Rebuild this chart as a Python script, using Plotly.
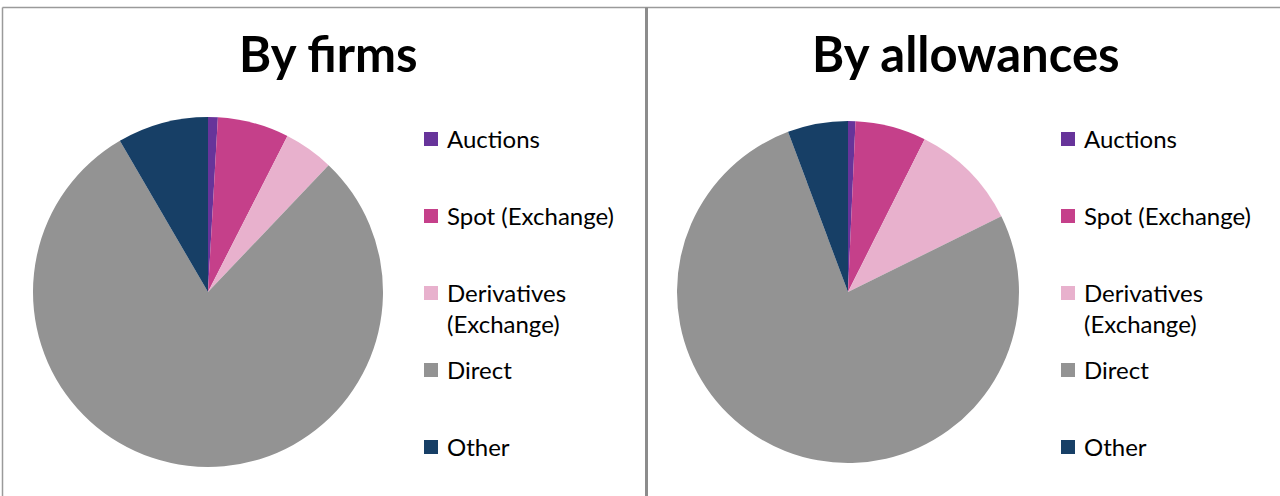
import plotly.graph_objects as go

# ---- data ----
categories = ["Auctions", "Spot (Exchange)", "Derivatives<br>(Exchange)", "Direct", "Other"]
firms_share = [0.9, 6.6, 4.6, 79.5, 8.4]
allowances_share = [0.7, 6.7, 10.3, 76.6, 5.7]
titles = ["By firms", "By allowances"]
colors = ["#67349a", "#c5408a", "#e8b1cd", "#939393", "#173f66"]

W, H = 1280, 496
FONT = "Lato"


def px(x):
    return x / W


def py(y):
    return 1 - y / H


fig = go.Figure()

# pie geometry (pixels): center x, center y, radius
pies = [
    dict(values=firms_share, cx=208, cy=292, r=175),
    dict(values=allowances_share, cx=848, cy=292, r=171),
]
for p in pies:
    fig.add_trace(go.Pie(
        labels=categories,
        values=p["values"],
        sort=False,
        direction="clockwise",
        rotation=0,
        textinfo="none",
        hoverinfo="label+percent",
        marker=dict(colors=colors, line=dict(width=0)),
        showlegend=False,
        domain=dict(x=[px(p["cx"] - p["r"]), px(p["cx"] + p["r"])],
                    y=[py(p["cy"] + p["r"]), py(p["cy"] - p["r"])]),
    ))

annotations = []
shapes = []

# titles
for t, cx in zip(titles, [328, 966]):
    annotations.append(dict(text="<b>" + t + "</b>", x=px(cx), y=py(53), xref="paper", yref="paper",
                            xanchor="center", yanchor="middle", showarrow=False,
                            font=dict(family=FONT, size=49, color="#000000")))

# manual legends
LINE_H = 31
for sq_x in [424, 1061]:
    for i, (lab, col) in enumerate(zip(categories, colors)):
        yc = 139 + i * 77
        shapes.append(dict(type="rect", xref="paper", yref="paper",
                           x0=px(sq_x), x1=px(sq_x + 14), y0=py(yc + 7), y1=py(yc - 7),
                           fillcolor=col, line=dict(width=0)))
        nlines = lab.count("<br>") + 1
        annotations.append(dict(text=lab, x=px(sq_x + 21), y=py(yc - 1 + (nlines - 1) * LINE_H / 2),
                                xref="paper", yref="paper", xanchor="left", yanchor="middle",
                                align="left", showarrow=False,
                                font=dict(family=FONT, size=24, color="#000000")))

# frame lines
shapes.append(dict(type="line", xref="paper", yref="paper", x0=px(2.5), x1=1, y0=py(7.5), y1=py(7.5),
                   line=dict(color="#9a9a9a", width=1.5)))
shapes.append(dict(type="line", xref="paper", yref="paper", x0=px(2.5), x1=px(2.5), y0=py(7.5), y1=0,
                   line=dict(color="#9a9a9a", width=1.5)))
shapes.append(dict(type="line", xref="paper", yref="paper", x0=px(646.5), x1=px(646.5), y0=py(7.5), y1=0,
                   line=dict(color="#8c8c8c", width=3)))

fig.update_layout(
    width=W, height=H,
    margin=dict(l=0, r=0, t=0, b=0),
    paper_bgcolor="#ffffff",
    plot_bgcolor="#ffffff",
    annotations=annotations,
    shapes=shapes,
    font=dict(family=FONT),
)

fig.write_html("out.html", config={"displayModeBar": False},
               post_script="document.body.style.margin='0';document.body.style.overflow='hidden';")
